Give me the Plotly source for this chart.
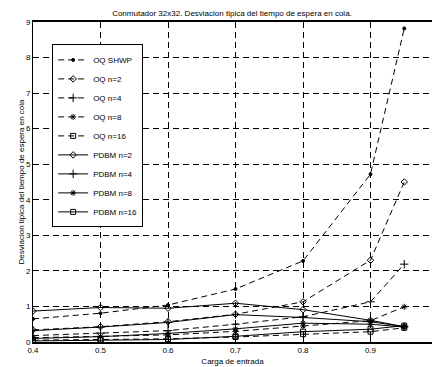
import plotly.graph_objects as go

carga = [0.4, 0.5, 0.6, 0.7, 0.8, 0.9, 0.95]

oq_shwp = [0.65, 0.81, 1.04, 1.49, 2.28, 4.72, 8.82]
oq_n2 = [0.34, 0.43, 0.57, 0.78, 1.13, 2.30, 4.50]
oq_n4 = [0.18, 0.25, 0.32, 0.50, 0.71, 1.13, 2.19]
oq_n8 = [0.12, 0.16, 0.20, 0.30, 0.45, 0.60, 0.99]
oq_n16 = [0.05, 0.07, 0.09, 0.14, 0.22, 0.29, 0.40]
pdbm_n2 = [0.87, 0.97, 0.95, 1.09, 0.91, 0.61, 0.43]
pdbm_n4 = [0.32, 0.42, 0.55, 0.77, 0.69, 0.57, 0.43]
pdbm_n8 = [0.10, 0.15, 0.24, 0.37, 0.53, 0.50, 0.42]
pdbm_n16 = [0.03, 0.05, 0.07, 0.16, 0.29, 0.36, 0.46]

series = [
    ("OQ SHWP", oq_shwp, "dash", "circle", 3),
    ("OQ n=2", oq_n2, "dash", "diamond-open", 5),
    ("OQ n=4", oq_n4, "dash", "cross-thin-open", 6),
    ("OQ n=8", oq_n8, "dash", "asterisk-open", 5),
    ("OQ n=16", oq_n16, "dash", "square-open", 5),
    ("PDBM n=2", pdbm_n2, "solid", "diamond-open", 5),
    ("PDBM n=4", pdbm_n4, "solid", "cross-thin-open", 6),
    ("PDBM n=8", pdbm_n8, "solid", "asterisk-open", 5),
    ("PDBM n=16", pdbm_n16, "solid", "square-open", 5),
]

x_ticks = [0.4, 0.5, 0.6, 0.7, 0.8, 0.9, 1.0]
y_ticks = [0, 1, 2, 3, 4, 5, 6, 7, 8, 9]

fig = go.Figure()
for name, vals, dash, sym, size in series:
    fig.add_trace(go.Scatter(
        x=carga, y=vals, name=name, mode="lines+markers",
        line=dict(color="black", width=1, dash="6px,4px" if dash == "dash" else "solid"),
        marker=dict(symbol=sym, size=size, color="black",
                    line=dict(color="black", width=1)),
    ))

font = "Liberation Sans, Arial, sans-serif"
fig.update_layout(
    width=432, height=367,
    margin=dict(l=33, r=0, t=22, b=25),
    paper_bgcolor="white", plot_bgcolor="white",
    font=dict(family=font, size=8, color="black"),
    title=dict(text="Conmutador 32x32. Desviacion tipica del tiempo de espera en cola.",
               x=0.537, xanchor="center", y=1 - 13 / 367, yanchor="middle",
               yref="container", font=dict(size=8)),
    showlegend=True,
    legend=dict(x=0.048, y=0.93, xanchor="left", yanchor="top",
                bgcolor="white", bordercolor="black", borderwidth=1,
                font=dict(size=8), tracegroupgap=0, itemwidth=30),
)
fig.update_xaxes(
    range=[0.4, 0.4 + 399 / 675], tickvals=x_ticks,
    ticktext=[str(v) for v in x_ticks],
    showgrid=True, gridcolor="black", griddash="6px,4px", gridwidth=1,
    showline=True, linecolor="black", linewidth=1.5, mirror="ticks",
    ticks="inside", ticklen=4, tickcolor="black",
    zeroline=False, tickfont=dict(size=8),
    title=dict(text="Carga de entrada", font=dict(size=8), standoff=4),
)
fig.update_yaxes(
    range=[0, 9], tickvals=y_ticks,
    showgrid=True, gridcolor="black", griddash="6px,4px", gridwidth=1,
    showline=True, linecolor="black", linewidth=1, mirror=False,
    ticks="inside", ticklen=4, tickcolor="black",
    zeroline=False, tickfont=dict(size=8),
    title=dict(text="Desviacion tipica del tiempo de espera en cola", font=dict(size=8), standoff=0),
)

fig.write_html("out.html")
